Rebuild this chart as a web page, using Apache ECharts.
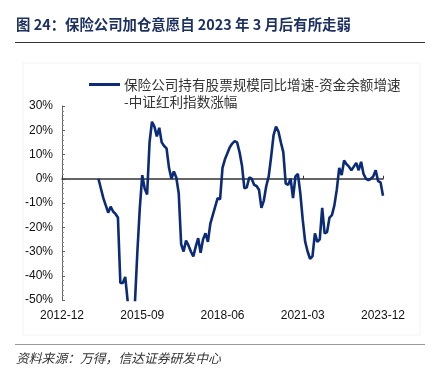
<!DOCTYPE html>
<html>
<head>
<meta charset="utf-8">
<script src="https://cdn.jsdelivr.net/npm/echarts@6/dist/echarts.min.js"></script>
<style>
html,body{margin:0;padding:0;background:#fff;}
#chart{width:428px;height:373px;}
</style>
</head>
<body>
<div id="chart"></div>
<script>
// months from 2012-12 to 2023-12
const categories = [];
for (let y = 2012, m = 12; ;) {
  categories.push(y + '-' + String(m).padStart(2, '0'));
  if (y === 2023 && m === 12) break;
  m++; if (m > 12) { m = 1; y++; }
}
const seriesName = '保险公司持有股票规模同比增速-资金余额增速-中证红利指数涨幅';
const legendLine1 = '保险公司持有股票规模同比增速-资金余额增速';
const legendLine2 = '-中证红利指数涨幅';
const titleText = '图 24：保险公司加仓意愿自 2023 年 3 月后有所走弱';
const sourceText = '资料来源：万得，信达证券研发中心';
const yTicks = [-50, -40, -30, -20, -10, 0, 10, 20, 30];
// values (%) starting from 2014-03 (index 15)
const leadingEmpty = 15;
const values = [
  0, -4, -8, -11, -14, -11.5, -13.5, -14.5, -16, -43,
  -43, -40.5, -50.5, -58, -58, -51, -30, -12, 1.5, -4,
  -6.5, 15, 23.5, 21.5, 17.5, 21, 15, 13.5, 12.5, 4.5,
  0, 3, 0.5, -6, -27, -30, -25.5, -27.5, -30, -32,
  -28, -24.5, -30.5, -25, -22.5, -26, -18.5, -15, -11.5, -8,
  -8.5, 4.5, 8, 10.5, 13, 14.5, 15.5, 15, 11, 5.5,
  -4, -3.5, 0.5, 0, -2.5, -3, -4.5, -12, -9, -3,
  1, 9, 18, 21.5, 19.5, 15, 11, -2, -2.5, 0,
  -8, 1, 2, -6, -17, -26, -30, -33, -32, -22.5,
  -26, -25, -12, -22.5, -22, -16, -15, -11, -4.5, 4.5,
  1.5, 7.5, 6, 5, 3.5, 5, 6.5, 3.5, 7, 2,
  0, -0.5, 0, 1, 3.5, -1, -1.5, -7
];
const data = new Array(leadingEmpty).fill(null).concat(values);

const chart = echarts.init(document.getElementById('chart'), null, {renderer: 'canvas'});
const lineColor = '#0b2a78';
const option = {
  animation: false,
  backgroundColor: '#fff',
  textStyle: {fontFamily: 'Liberation Sans, Arial, sans-serif'},
  grid: {left: 62, right: 45, top: 106, bottom: 73, containLabel: false},
  xAxis: [
    {
      type: 'category', data: categories, boundaryGap: false,
      axisLine: {show: true, onZero: true, lineStyle: {color: '#333', width: 1.5}},
      axisTick: {show: true, inside: true, length: 3, interval: 32, lineStyle: {color: '#333'}},
      axisLabel: {show: false},
      splitLine: {show: false}, z: 1
    },
    {
      type: 'category', data: categories, boundaryGap: false, position: 'bottom',
      axisLine: {show: false, onZero: false},
      axisTick: {show: false},
      axisLabel: {show: true, interval: 32, color: '#111', fontSize: 12, margin: 10,
        fontFamily: 'Liberation Sans, Arial, sans-serif'},
      splitLine: {show: false}
    }
  ],
  yAxis: {
    type: 'value', min: yTicks[0], max: yTicks[yTicks.length - 1], interval: 10,
    axisLine: {show: true, lineStyle: {color: '#666'}},
    axisTick: {show: true, inside: true, length: 3, lineStyle: {color: '#666'}},
    minorTick: {show: true, splitNumber: 5, length: 2, lineStyle: {color: '#888'}},
    axisLabel: {formatter: '{value}%', color: '#111', fontSize: 12, margin: 9,
      fontFamily: 'Liberation Sans, Arial, sans-serif'},
    splitLine: {show: false}
  },
  series: [{
    name: seriesName, type: 'line', data: data, xAxisIndex: 0,
    showSymbol: false, symbol: 'none', clip: true,
    lineStyle: {color: lineColor, width: 2.6},
    connectNulls: false, z: 3
  }],
  graphic: [
    {type: 'text', left: 16, top: 17, style: {text: titleText, fill: '#1c3062',
      font: 'bold 14.4px "Noto Sans CJK SC", sans-serif'}},
    {type: 'line', shape: {x1: 15, y1: 42.5, x2: 425, y2: 42.5}, style: {stroke: '#333', lineWidth: 1}},
    {type: 'rect', shape: {x: 23, y: 63, width: 397, height: 272}, style: {fill: 'none', stroke: '#f3f3f3', lineWidth: 1}, z: -1},
    {type: 'line', shape: {x1: 89, y1: 84.5, x2: 120, y2: 84.5}, style: {stroke: lineColor, lineWidth: 3}},
    {type: 'text', left: 124, top: 76, style: {text: legendLine1 + '\n' + legendLine2, fill: '#333',
      font: '13.6px "Noto Sans CJK SC", sans-serif', lineHeight: 17}},
    {type: 'line', shape: {x1: 15, y1: 344.5, x2: 425, y2: 344.5}, style: {stroke: '#999', lineWidth: 1}},
    {type: 'text', left: 16, top: 352, style: {text: sourceText, fill: '#333',
      font: 'italic 12.8px "Noto Sans CJK SC", sans-serif'}}
  ]
};
chart.setOption(option);
</script>
</body>
</html>
